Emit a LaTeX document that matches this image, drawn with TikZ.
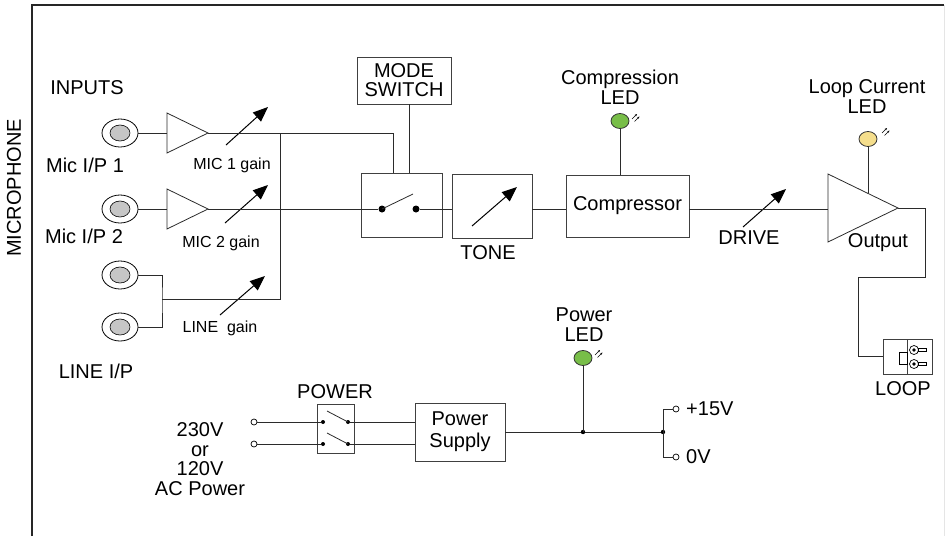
\documentclass[tikz,border=0pt]{standalone}
\usepackage{fontspec}
\setmainfont{Liberation Sans}
\usetikzlibrary{arrows.meta,shapes.geometric}
\definecolor{ledgreen}{HTML}{78BE48}
\definecolor{ledyellow}{HTML}{F5DE8C}
\definecolor{jackfill}{HTML}{C6C6C6}
\definecolor{wirecol}{HTML}{2B2B2B}
\tikzset{
  wire/.style={draw=wirecol, line width=0.8pt},
  blk/.style={draw=black!75, line width=0.9pt, inner sep=0pt, align=center, font=\fontsize{20}{20}\selectfont},
  lbl/.style={inner sep=0pt, align=center, font=\fontsize{20}{20}\selectfont},
  gainlbl/.style={inner sep=0pt, font=\fontsize{16}{17}\selectfont},
  knob/.style={line width=1pt, -{Triangle[length=15pt,width=12pt]}},
  jackring/.style={ellipse, draw=black, line width=0.8pt, minimum width=36pt, minimum height=28pt, inner sep=0pt},
  led/.style={ellipse, draw=black!80, line width=0.8pt, fill=#1, minimum width=18pt, minimum height=15pt, inner sep=0pt},
  jdot/.style={circle, fill=black, inner sep=0pt, minimum size=#1},
  hole/.style={circle, draw=black, fill=white, line width=0.7pt, inner sep=0pt, minimum size=6pt},
  emit/.style={line width=0.4pt, -{Stealth[length=2.5pt,width=2pt]}}
}
\newcommand\ledrays[2]{%
  \draw[emit] (#1,#2) -- ++(5,-5);
  \draw[emit] (#1+2.5,#2+2.5) -- ++(5,-5);}

\begin{document}
\begin{tikzpicture}[x=1pt,y=-1pt]
        \useasboundingbox (0,0) rectangle (948,536);
        \draw [line width=1.1pt, black!85] (32,536) -- (32,5) -- (944,5);
        \draw [black!10] (944,5) -- (944,536);
        \node [lbl, rotate=90] (mic) at (14,188) {MICROPHONE};

        % inputs
        \node [lbl] (inputs) at (87,88) {INPUTS};
        \foreach \n/\y in {j1/133,j2/209,j3/275,j4/327}{
            \node [jackring] (\n) at (120,\y) {};
            \fill [jackfill, draw=black, line width=0.6pt] (120,\y) ellipse [x radius=10pt, y radius=8pt];
        }
        \node [lbl] (mic1) at (85,165) {Mic I/P 1};
        \node [lbl] (mic2) at (84,236) {Mic I/P 2};
        \node [lbl] (linein) at (96,371) {LINE I/P};
        \foreach \n/\y in {a1/133,a2/209}{
            \draw [wire] (167,\y-20) -- (208,\y) -- (167,\y+20) -- cycle;
            \coordinate (\n-in) at (167,\y);
            \coordinate (\n-out) at (208,\y);
        }
        \draw [wire] (j1.east) -- (a1-in);
        \draw [wire] (j2.east) -- (a2-in);
        \draw [knob] (226,145) -- (268,107);
        \draw [knob] (225,223) -- (268,185);
        \draw [knob] (220,315) -- (265,276);
        \node [gainlbl] (g1) at (232,165) {MIC 1 gain};
        \node [gainlbl] (g2) at (221,243) {MIC 2 gain};
        \node [gainlbl] (g3) at (220,328) {LINE\ \ gain};

        % signal path
        \node [blk, font=\fontsize{20}{19}\selectfont, minimum width=94pt, minimum height=47pt] (mode) at (404,80.5) {MODE\\SWITCH};
        \node [blk, minimum width=81pt, minimum height=64pt] (sw) at (401.5,205) {};
        \node [jdot=7pt] (piv) at (382,209) {};
        \node [jdot=7pt] (cont) at (416,209) {};
        \draw [wire] (piv.center) -- (413,194);
        \node [blk, minimum width=80pt, minimum height=64pt] (tone) at (492,206) {};
        \node [lbl] (tonelbl) at (488,253) {TONE};
        \draw [knob] (472,226) -- (517,187);
        \node [blk, minimum width=123pt, minimum height=62pt] (comp) at (627.5,206) {Compressor};
        \draw [wire] (828,174) -- (898,208) -- (828,242) -- cycle;
        \coordinate (o-in) at (828,209);
        \coordinate (o-out) at (898,208);
        \node [lbl] (outlbl) at (878,243) {Output};
        \draw [knob] (743,227) -- (786,189);
        \node [lbl] (drive) at (749,238) {DRIVE};

        \coordinate (bus) at (280,133);
        \coordinate (lmid) at (162,299);
        \draw [wire] (a1-out) -| ([xshift=-8.5pt]sw.north);
        \draw [wire] (a2-out) -- (piv);
        \draw [wire] (j3.east) -| (lmid) |- (j4.east);
        \draw [wire] (lmid) -| (bus);
        \draw [wire] ([xshift=5pt]mode.south) -- ([xshift=5pt]mode.south |- sw.north);
        \draw [wire] (cont) -- (cont -| tone.west);
        \draw [wire] (tone.east |- cont) -- (comp.west |- cont);
        \draw [wire] (comp.east |- cont) -- (o-in);

        % leds
        \node [led=ledgreen] (cled) at (620,121) {};
        \draw [wire] (cled) -- (cled |- comp.north);
        \ledrays{632}{119}
        \node [lbl] (cledlbl) at (620,87) {Compression\\LED};
        \node [led=ledyellow] (lled) at (868,139) {};
        \coordinate (otop) at (868,193.4);
        \draw [wire] (lled) -- (otop);
        \ledrays{882}{133}
        \node [lbl] (lledlbl) at (867,97) {Loop Current\\LED};

        % loop output
        \node [blk, minimum width=49pt, minimum height=35pt] (loop) at (907.5,356.5) {};
        \draw [wire] (o-out) -- (925,208) -- (925,277) -- (858,277) |- (loop.west);
        \draw [black!75, line width=0.8pt] (907,339) -- (907,374);
        \draw [line width=0.7pt] (899,352) rectangle (907,364);
        \foreach \y in {350,364}{
            \draw [line width=0.7pt] (914,\y) circle [radius=4.5pt];
            \fill (914,\y) circle [radius=1.8pt];
            \draw [line width=0.6pt] (918.5,\y-1.5) rectangle (926,\y+1.5);
        }
        \node [lbl] (looplbl) at (903,389) {LOOP};

        % power
        \node [lbl] (pwrlbl) at (335,392) {POWER};
        \node [blk, minimum width=37pt, minimum height=49pt] (pwr) at (335.5,428.5) {};
        \node [blk, font=\fontsize{20}{22}\selectfont, minimum width=90pt, minimum height=58pt] (psu) at (460,432) {Power\\Supply};
        \foreach \i/\y in {1/422,2/444}{
            \node [hole] (ac\i) at (254,\y) {};
            \node [jdot=4pt] (sl\i) at (323,\y) {};
            \node [jdot=4pt] (sr\i) at (348,\y) {};
            \draw [wire] (ac\i) -- (sl\i);
            \draw [wire] (sr\i.center) -- (327,\y-11);
            \draw [wire] (sr\i) -- (sr\i -| psu.west);
        }
        \node [lbl, font=\fontsize{20}{19.5}\selectfont] (aclbl) at (200,459) {230V\\or\\120V\\AC Power};
        \coordinate (jn1) at (583,432);
        \coordinate (jn2) at (663,432);
        \draw [wire] (psu.east) -- (jn2);
        \fill (jn1) circle [radius=2.2pt];
        \fill (jn2) circle [radius=2.2pt];
        \node [led=ledgreen] (pled) at (583,358) {};
        \draw [wire] (pled) -- (jn1);
        \ledrays{595}{355}
        \node [lbl] (pledlbl) at (584,325) {Power\\LED};
        \node [hole] (p15) at (676,409) {};
        \node [hole] (p0) at (676,457) {};
        \draw [wire] (jn2) |- (p15);
        \draw [wire] (jn2) |- (p0);
        \node [lbl, anchor=west] (p15lbl) at (686,409) {+15V};
        \node [lbl, anchor=west] (p0lbl) at (686,457) {0V};
\end{tikzpicture}
\end{document}
